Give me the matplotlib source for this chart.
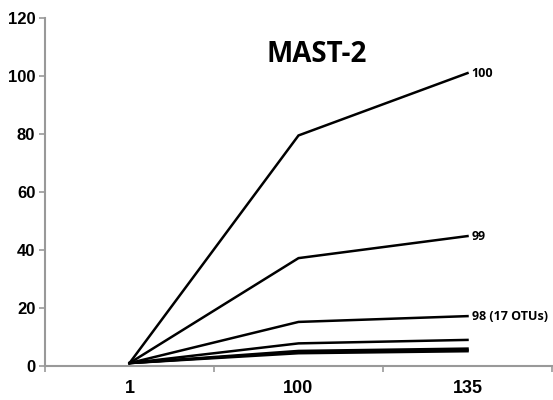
import matplotlib
matplotlib.use("Agg")
import matplotlib.pyplot as plt

plt.rcParams["font.family"] = ["Liberation Sans", "DejaVu Sans"]
plt.rcParams["font.weight"] = "bold"

categories = ["1", "100", "135"]
series = [
    [1, 79.5, 101],
    [1, 37.2, 44.8],
    [1, 15.2, 17.2],
    [1, 7.8, 9.0],
    [1, 5.2, 6.0],
    [1, 4.8, 5.5],
    [1, 4.4, 5.1],
]
end_labels = ["100", "99", "98 (17 OTUs)", None, None, None, None]
title = "MAST-2"
yticks = [0, 20, 40, 60, 80, 100, 120]

fig = plt.figure(figsize=(5.53, 4.00), dpi=100)
ax = fig.add_axes([45/553, 34/400, 507/553, 348/400])

xs = list(range(len(categories)))
for vals, lab in zip(series, end_labels):
    ax.plot(xs, vals, color="black", lw=1.8, solid_joinstyle="miter")
    if lab:
        ax.annotate(lab, (xs[-1], vals[-1]), xytext=(3, 0), textcoords="offset points",
                    ha="left", va="center", fontsize=9, fontweight="bold",
                    family=["Open Sans", "DejaVu Sans"])

ax.set_xlim(-0.5, len(categories) - 0.5)
ax.set_ylim(0, 120)
ax.set_yticks(yticks)
ax.set_yticklabels([str(v) for v in yticks])
ax.set_xticks([i - 0.5 for i in range(len(categories) + 1)])
ax.set_xticklabels([])
ax.set_xticks(xs, minor=True)
ax.set_xticklabels(categories, minor=True)
ax.tick_params(axis="x", which="minor", length=0, pad=10, labelsize=13)
ax.tick_params(axis="x", which="major", length=4, color="#999999", width=1.2)
ax.tick_params(axis="y", length=4, color="#999999", width=1.2, pad=3, labelsize=12)

for s in ["top", "right"]:
    ax.spines[s].set_visible(False)
for s in ["left", "bottom"]:
    ax.spines[s].set_color("#999999")
    ax.spines[s].set_linewidth(1.5)

ax.text(0.535, 0.895, title, transform=ax.transAxes, ha="center", va="center",
        fontsize=20, fontweight="bold", family=["Open Sans", "DejaVu Sans"])

fig.savefig("out.png", dpi=100)
